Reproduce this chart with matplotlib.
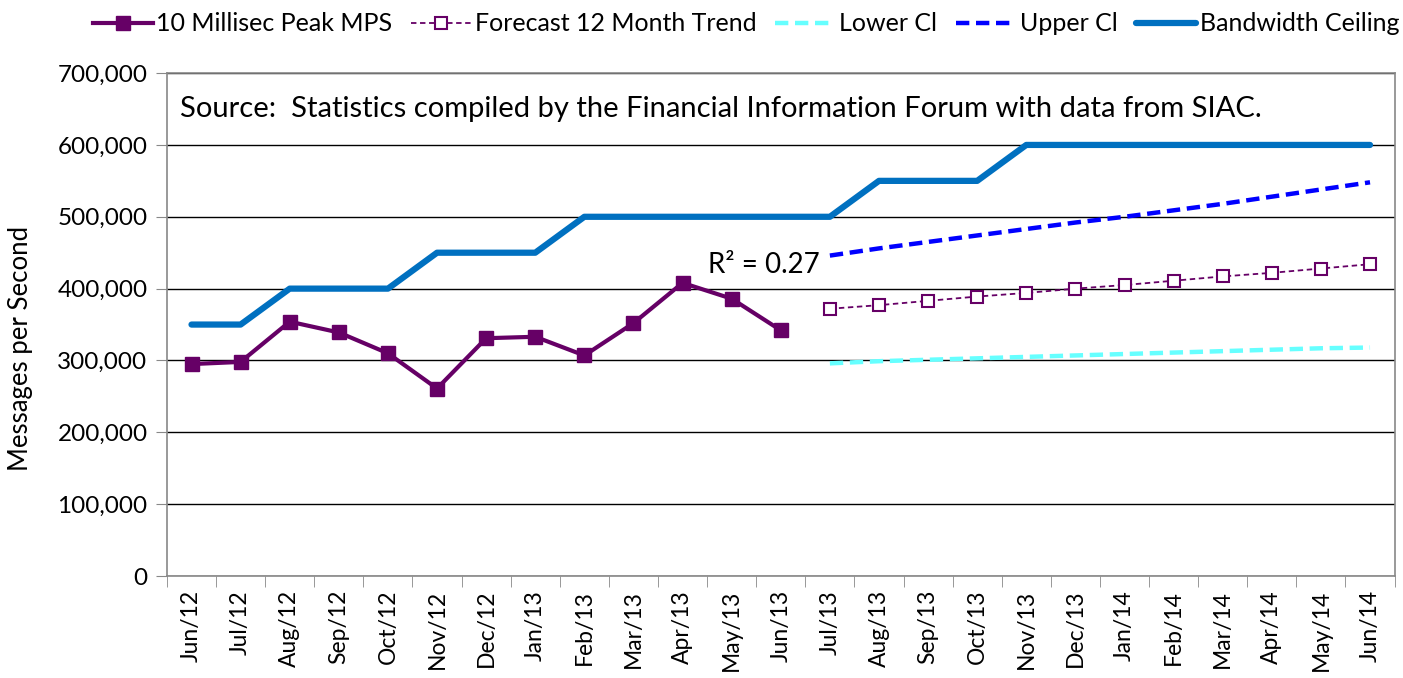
import matplotlib
matplotlib.use("Agg")
import matplotlib.pyplot as plt
import numpy as np
from matplotlib.ticker import FuncFormatter, FixedLocator

plt.rcParams['font.family'] = ['Lato', 'DejaVu Sans']

months = ["Jun/12", "Jul/12", "Aug/12", "Sep/12", "Oct/12", "Nov/12", "Dec/12",
          "Jan/13", "Feb/13", "Mar/13", "Apr/13", "May/13", "Jun/13", "Jul/13",
          "Aug/13", "Sep/13", "Oct/13", "Nov/13", "Dec/13", "Jan/14", "Feb/14",
          "Mar/14", "Apr/14", "May/14", "Jun/14"]

peak_mps = [295000, 298000, 354000, 339000, 310000, 261000, 331000, 333000,
            307000, 352000, 408000, 386000, 342000]
forecast = [372000, 377000, 383000, 389000, 394000, 400000, 405000, 411000,
            417000, 422000, 428000, 434000]
lower_ci = [296000, 299000, 301000, 303000, 305000, 307000, 309000, 311000,
            313000, 315000, 317000, 318000]
upper_ci = [446000, 456000, 465000, 474000, 483000, 492000, 500000, 509000,
            518000, 528000, 538000, 548000]
bandwidth = [350000, 350000, 400000, 400000, 400000, 450000, 450000, 450000,
             500000, 500000, 500000, 500000, 500000, 500000, 550000, 550000,
             550000, 600000, 600000, 600000, 600000, 600000, 600000, 600000, 600000]

x_all = np.arange(len(months))
x_hist = x_all[:len(peak_mps)]
x_fc = x_all[len(peak_mps):]

fig = plt.figure(figsize=(14.03, 6.78), dpi=100)
ax = fig.add_axes([0.119, 0.1504, 0.875, 0.7418])

ax.plot(x_all, bandwidth, color='#0070C0', lw=4.5, solid_capstyle='round', zorder=3,
        label='Bandwidth Ceiling')
ax.plot(x_hist, peak_mps, color='#660066', lw=3, marker='s', ms=10, zorder=4,
        label='10 Millisec Peak MPS')
ax.plot(x_fc, forecast, color='#660066', lw=1.3, ls=(0, (3, 2)), marker='s', ms=9,
        mfc='white', mec='#660066', mew=1.5, zorder=4, label='Forecast 12 Month Trend')
ax.plot(x_fc, lower_ci, color='#66FFFF', lw=3.2, ls=(0, (3, 1.5)), zorder=3, label='Lower Cl')
ax.plot(x_fc, upper_ci, color='#0000FF', lw=3.2, ls=(0, (3, 1.5)), zorder=3, label='Upper Cl')

ax.set_xlim(-0.5, len(months) - 0.5)
ax.set_ylim(0, 700000)
ax.set_yticks(np.arange(0, 700001, 100000))
ax.yaxis.set_major_formatter(FuncFormatter(lambda v, p: f"{int(v):,}"))
ax.grid(axis='y', color='black', lw=1.0, zorder=0)
ax.set_axisbelow(True)

ax.set_xticks(x_all)
ax.set_xticklabels(months, rotation=90, fontsize=16.5)
ax.xaxis.set_minor_locator(FixedLocator(np.arange(-0.5, len(months), 1)))
ax.tick_params(axis='x', which='major', length=0, pad=10)
ax.tick_params(axis='x', which='minor', length=8, color='#888888', direction='out')
ax.tick_params(axis='y', length=8, color='#888888', labelsize=17.5, pad=6)

for s in ['left', 'right', 'top', 'bottom']:
    ax.spines[s].set_color('#888888')
    ax.spines[s].set_linewidth(1.2)

ax.set_ylabel('Messages per Second', fontsize=18.5)
ax.yaxis.set_label_coords(-0.109, 0.453)

ax.text(0.011, 0.955, 'Source:  Statistics compiled by the Financial Information Forum with data from SIAC.',
        transform=ax.transAxes, fontsize=21, va='top', ha='left')
ax.text(12.8, 433000, 'R² = 0.27', fontsize=20, ha='right', va='center')

handles, labels = ax.get_legend_handles_labels()
order = [1, 2, 3, 4, 0]
fig.legend([handles[i] for i in order], [labels[i] for i in order],
           loc='upper left', bbox_to_anchor=(0.05, 1.015), ncol=5, frameon=False,
           fontsize=18, handlelength=2.4, columnspacing=0.75, handletextpad=0.15)

fig.savefig('out.png', dpi=100)
